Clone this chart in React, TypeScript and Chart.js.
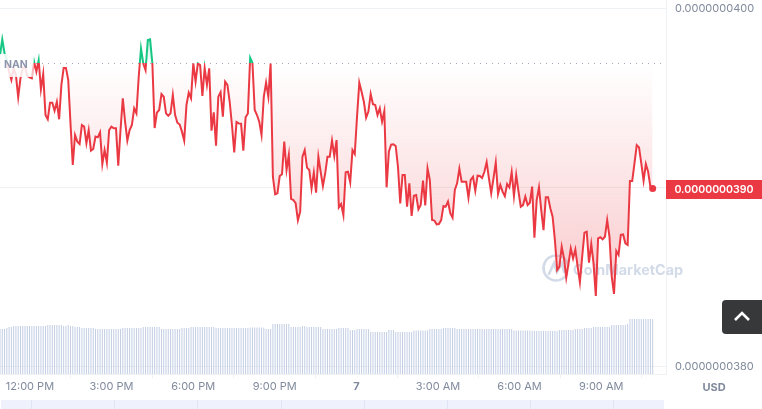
import { Chart, registerables } from 'chart.js';
import { useEffect, useRef } from 'react';

Chart.register(...registerables);

// prices in units of 1e-10 USD
const prices = [
    397.4, 398.28, 397.5, 397.12, 396.47, 396.01, 396.66, 396.28, 395.04, 396.1, 396.66, 396.75, 396.23, 396.15, 396.1, 397.03,
    396.47, 397.12, 395.48, 396.34, 394.05, 393.81, 394.74, 394.74, 394.29, 394.79, 393.81, 395.73, 396.68, 396.68, 396.01, 393.58,
    391.26, 392.93, 392.56, 392.43, 393.49, 393.4, 392.47, 393.21, 392.06, 392.15, 392.84, 392.8, 393.08, 391.31, 392.09, 391.39,
    393.21, 393.4, 393.31, 393.31, 391.22, 393.21, 394.98, 393.68, 392.62, 393.21, 393.49, 394.42, 394.14, 396.19, 397.77, 396.93,
    396.56, 398.24, 398.28, 396.93, 393.32, 394.18, 394.33, 395.22, 395.07, 394.14, 394.01, 394.14, 395.17, 394.05, 393.62, 393.52,
    393.12, 392.62, 394.61, 395.3, 394.98, 396.93, 395.91, 396.93, 396.84, 395.11, 396.66, 395.73, 396.66, 393.17, 394.2, 392.34,
    395.07, 395.33, 393.96, 395.91, 395.73, 394.79, 393.49, 391.96, 393.66, 393.58, 393.57, 392.06, 393.92, 394.14, 397.25, 396.97,
    394.33, 394.05, 393.68, 392.93, 395.07, 395.86, 395.07, 396.93, 390.6, 389.62, 389.67, 390.64, 390.74, 392.56, 390.98, 391.82,
    389.36, 389.3, 389.12, 388.17, 388.65, 391.72, 392.09, 391.11, 390.98, 389.95, 390.83, 389.71, 391.72, 390.88, 390.08, 390.79,
    391.72, 391.72, 392.62, 391.76, 392.65, 388.89, 389.08, 388.46, 390.85, 390.88, 390.29, 392.09, 391.87, 393.96, 395.86, 395.35,
    394.79, 393.9, 394.24, 395.22, 394.65, 394.61, 394.05, 394.42, 393.68, 394.27, 390.01, 392.0, 392.39, 392.41, 392.32, 391.16,
    389.11, 390.7, 390.7, 388.93, 390.23, 388.41, 389.54, 389.58, 388.78, 389.02, 390.38, 389.0, 391.07, 390.42, 388.18, 388.15,
    387.94, 387.96, 388.18, 388.97, 388.93, 389.21, 388.56, 388.31, 389.86, 390.23, 391.05, 390.32, 390.32, 390.32, 389.43, 390.42,
    390.6, 389.82, 390.66, 390.64, 390.53, 390.88, 391.42, 390.51, 389.67, 390.51, 391.39, 389.64, 390.14, 389.77, 389.52, 390.19,
    390.01, 390.85, 389.52, 390.7, 389.77, 388.93, 389.02, 389.49, 389.02, 389.15, 390.05, 387.2, 389.3, 390.01, 388.74, 387.62,
    389.45, 389.45, 388.84, 388.37, 387.07, 385.39, 385.58, 386.69, 386.04, 384.96, 385.76, 386.6, 386.04, 386.54, 385.58, 384.7,
    386.13, 387.47, 387.53, 385.8, 386.84, 385.76, 383.94, 387.16, 387.22, 387.1, 387.25, 388.18, 387.25, 385.02, 384.05, 386.45,
    386.23, 387.35, 387.38, 386.88, 386.79, 390.36, 390.36, 391.35, 392.37, 392.24, 391.35, 390.38, 391.31, 390.88, 390.05, 389.95,
];

const volumes = [
    45, 45, 45, 46, 47, 47, 48, 48, 48, 48, 48, 48, 48, 48, 48, 48, 48, 48, 48, 48,
    48, 49, 49, 49, 49, 49, 49, 49, 48, 48, 49, 48, 48, 47, 47, 47, 46, 46, 46, 46,
    46, 46, 45, 45, 45, 45, 45, 45, 45, 45, 45, 45, 45, 45, 46, 46, 46, 46, 46, 46,
    46, 46, 46, 47, 47, 47, 47, 47, 47, 47, 47, 45, 45, 45, 45, 45, 45, 45, 45, 45,
    46, 46, 46, 46, 47, 47, 47, 47, 47, 47, 47, 47, 47, 47, 47, 46, 46, 46, 46, 46,
    46, 46, 46, 46, 46, 46, 46, 46, 46, 46, 46.5, 46.5, 46.5, 46.5, 46.5, 46.5, 46.5, 45, 45, 45,
    50, 50, 50, 50, 50, 50, 50, 50, 47, 47, 47, 47, 47, 48, 48, 47, 47, 47, 47, 47,
    47, 47, 45, 45, 45, 45, 45, 45, 45, 46, 46, 46, 46, 46, 44, 44, 44, 45, 45, 45,
    45, 45, 45, 42, 42, 42, 42, 42, 42, 42, 42, 44, 44, 44, 42, 42, 42, 42, 42, 42,
    42, 42, 43.5, 43.5, 43.5, 43.5, 43.5, 43.5, 43.5, 45, 45, 45, 45, 45, 45, 46, 46, 46, 46, 46,
    46, 45, 45, 45, 45, 45, 45, 45, 45, 45, 45, 45, 45, 45, 45, 45, 45, 45, 45, 45,
    45, 45, 45, 45, 45, 45, 43.5, 43.5, 43.5, 43.5, 43.5, 43.5, 43.5, 43.5, 43, 43, 43, 43, 43, 43,
    43, 43, 43, 43, 43, 43, 44, 44, 44, 44, 44, 44, 44, 45, 45, 45, 45, 46, 46, 46,
    46, 47, 47, 47, 47, 47, 47, 47, 47, 49, 49, 49, 49, 49, 49, 49, 50, 55, 55, 55,
    55, 55, 55, 55, 55, 55, 55, 55,
];

// minutes since midnight of the first day
const xTickMinutes = [720, 900, 1080, 1260, 1440, 1620, 1800, 1980];
const xTickLabels = ['12:00 PM', '3:00 PM', '6:00 PM', '9:00 PM', '7', '3:00 AM', '6:00 AM', '9:00 AM'];
const yTickValues = [380, 390, 400];
const firstMinute = 654;
const lastMinute = 2093.6;
const baseline = 396.93;
const lastPrice = '0.0000000390';

const RED = '#ea3943';
const GREEN = '#16c784';
const GRID = '#eff2f5';
const TEXT = '#808a9d';
const FONT = 'Inter';

const minutes = prices.map((_, i) => firstMinute + (i * (lastMinute - firstMinute)) / (prices.length - 1));

const overlayPlugin = {
    id: 'overlay',
    beforeDatasetsDraw(chart: any) {
        const { ctx } = chart;
        // watermark
        ctx.save();
        ctx.strokeStyle = '#d3dbe9';
        ctx.fillStyle = '#d3dbe9';
        ctx.lineWidth = 2.6;
        ctx.lineCap = 'round';
        ctx.beginPath();
        ctx.arc(556, 268, 12.5, 0.15 * Math.PI, 1.95 * Math.PI);
        ctx.stroke();
        ctx.beginPath();
        ctx.moveTo(549, 274);
        ctx.lineTo(554, 263);
        ctx.lineTo(557, 272);
        ctx.lineTo(562, 263);
        ctx.lineTo(564, 272);
        ctx.stroke();
        ctx.font = `700 14.4px ${FONT}`;
        ctx.textAlign = 'left';
        ctx.textBaseline = 'alphabetic';
        ctx.fillText('CoinMarketCap', 573, 275);
        ctx.restore();
    },
    afterDatasetsDraw(chart: any) {
        const { ctx } = chart;
        ctx.save();
        // label on the dotted baseline
        const grad = ctx.createLinearGradient(0, 0, 42, 0);
        grad.addColorStop(0, 'rgba(255,255,255,0.85)');
        grad.addColorStop(0.7, 'rgba(255,255,255,0.85)');
        grad.addColorStop(1, 'rgba(255,255,255,0)');
        ctx.fillStyle = grad;
        ctx.fillRect(0, 54, 34, 23);
        ctx.fillStyle = '#8e96ad';
        ctx.font = `700 10.5px ${FONT}`;
        ctx.textAlign = 'left';
        ctx.textBaseline = 'middle';
        ctx.fillText('NAN', 4, 65);
        ctx.restore();
    },
    afterDraw(chart: any) {
        const { ctx } = chart;
        ctx.save();
        // current price box
        ctx.fillStyle = RED;
        ctx.fillRect(666, 180, 96, 19);
        ctx.fillStyle = '#fff';
        ctx.font = `600 10.6px ${FONT}`;
        ctx.textAlign = 'center';
        ctx.textBaseline = 'middle';
        ctx.fillText(lastPrice, 714, 189.5);
        // unit
        ctx.fillStyle = TEXT;
        ctx.font = `700 11px ${FONT}`;
        ctx.fillText('USD', 714, 387.5);
        // navigator strip
        ctx.fillStyle = '#eff2fd';
        ctx.fillRect(1, 400, 663, 9);
        ctx.fillStyle = '#dfe5f4';
        xTickMinutes.forEach((m) => {
            ctx.fillRect(Math.round(31 + ((m - 720) * 83.2) / 180), 400, 1, 9);
        });
        ctx.restore();
    },
};

const App = () => {
    const chartRef = useRef<HTMLCanvasElement>(null);

    useEffect(() => {
        const canvas = chartRef.current;
        const ctx = canvas ? canvas.getContext('2d') : null;
        if (!canvas || !ctx) return;

        // hard switch from green to red at the baseline
        const lineColor = ctx.createLinearGradient(0, 0, 0, 374);
        lineColor.addColorStop(0, GREEN);
        lineColor.addColorStop(63.5 / 374, GREEN);
        lineColor.addColorStop(63.5 / 374, RED);
        lineColor.addColorStop(1, RED);

        const fillBelow = ctx.createLinearGradient(0, 63.5, 0, 296);
        fillBelow.addColorStop(0, 'rgba(234,57,67,0)');
        fillBelow.addColorStop(1, 'rgba(234,57,67,0.27)');

        const fillAbove = ctx.createLinearGradient(0, 63.5, 0, 39);
        fillAbove.addColorStop(0, 'rgba(22,199,132,0)');
        fillAbove.addColorStop(1, 'rgba(22,199,132,0.25)');

        const chart = new Chart(ctx, {
            data: {
                datasets: [
                    {
                        type: 'line',
                        data: minutes.map((x, i) => ({ x, y: prices[i] })),
                        borderColor: lineColor,
                        borderWidth: 2,
                        tension: 0,
                        pointRadius: (c: any) => (c.dataIndex === prices.length - 1 ? 3.5 : 0),
                        pointBackgroundColor: RED,
                        pointBorderWidth: 0,
                        fill: { target: { value: baseline }, above: fillAbove, below: fillBelow },
                        order: 1,
                    },
                    {
                        type: 'line',
                        data: [
                            { x: firstMinute, y: baseline },
                            { x: 2123, y: baseline },
                        ],
                        borderColor: '#a1a7bb',
                        borderWidth: 1,
                        borderDash: [1, 5],
                        pointRadius: 0,
                        fill: false,
                        order: 2,
                    },
                    {
                        type: 'bar',
                        data: minutes.map((x, i) => ({ x, y: volumes[i] })),
                        yAxisID: 'volume',
                        backgroundColor: '#c3cee4',
                        barThickness: 1,
                        inflateAmount: 0,
                        order: 3,
                    },
                ],
            } as any,
            plugins: [overlayPlugin],
            options: {
                responsive: false,
                animation: false,
                layout: { padding: 0, autoPadding: false },
                events: [],
                plugins: {
                    legend: { display: false },
                    tooltip: { enabled: false },
                },
                scales: {
                    x: {
                        type: 'linear',
                        offset: false,
                        min: 654,
                        max: 2123,
                        afterBuildTicks: (scale: any) => {
                            scale.ticks = xTickMinutes.map((value) => ({ value }));
                        },
                        afterFit: (scale: any) => {
                            scale.height = 35;
                            scale.paddingLeft = 0;
                            scale.paddingRight = 0;
                        },
                        grid: { drawOnChartArea: false, tickLength: 4, color: GRID },
                        border: { color: GRID },
                        ticks: {
                            autoSkip: false,
                            maxRotation: 0,
                            padding: 2,
                            color: TEXT,
                            font: (c: any) => ({ family: FONT, size: 11, weight: c.index === 4 ? 700 : 400 }),
                            callback: (_: any, i: number) => xTickLabels[i],
                        },
                    },
                    y: {
                        type: 'linear',
                        position: 'right',
                        min: 379.58,
                        max: 400.475,
                        afterBuildTicks: (scale: any) => {
                            scale.ticks = yTickValues.map((value) => ({ value }));
                        },
                        afterFit: (scale: any) => {
                            scale.width = 96;
                            scale.paddingTop = 0;
                            scale.paddingBottom = 0;
                        },
                        grid: { color: GRID, tickLength: 0 },
                        border: { color: GRID },
                        ticks: {
                            autoSkip: false,
                            padding: 9,
                            color: TEXT,
                            font: { family: FONT, size: 11 },
                            callback: (v: any) => (v * 1e-10).toFixed(10),
                        },
                    },
                    volume: {
                        type: 'linear',
                        display: false,
                        min: 0,
                        max: 374,
                    },
                },
            } as any,
        });

        return () => chart.destroy();
    }, []);

    return (
        <div style={{ position: 'absolute', left: 0, top: 0, width: 762, height: 409, overflow: 'hidden', background: '#fff' }}>
            <canvas ref={chartRef} width="762" height="409" style={{ display: 'block' }}></canvas>
            <div
                style={{
                    position: 'absolute',
                    left: 722,
                    top: 300,
                    width: 40,
                    height: 34,
                    borderRadius: '4px 0 0 4px',
                    background: '#37383a',
                }}
            >
                <svg width="40" height="34">
                    <path d="M13 20 L20 13 L27 20" fill="none" stroke="#fff" strokeWidth="2.6" />
                </svg>
            </div>
        </div>
    );
};

export default App;
